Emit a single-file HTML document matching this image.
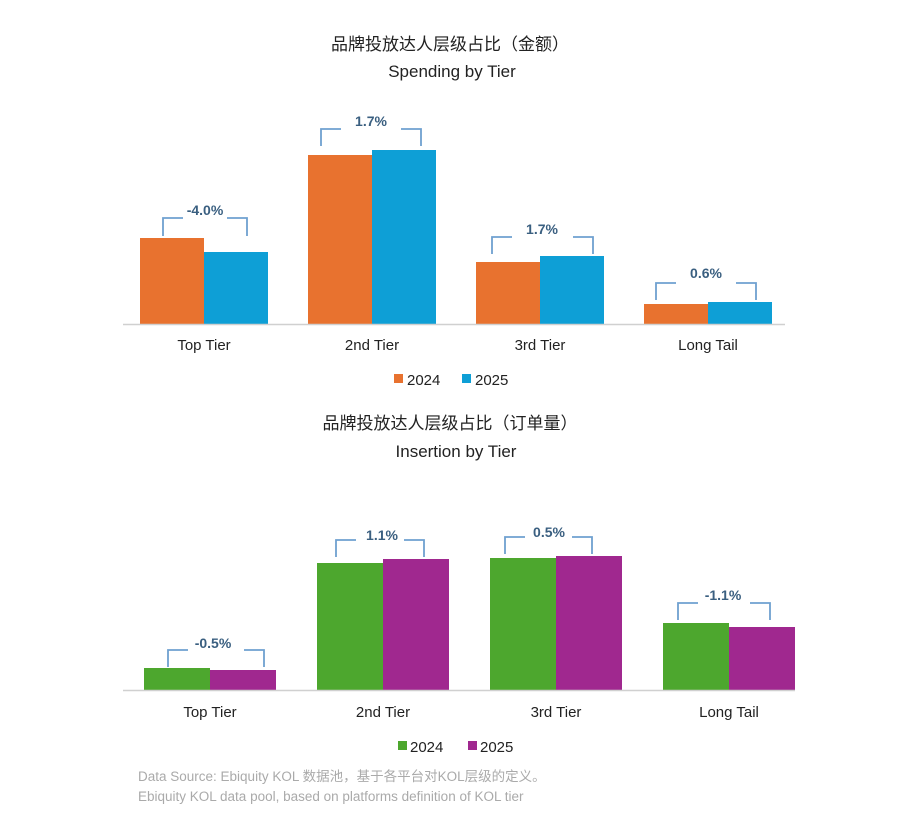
<!DOCTYPE html>
<html><head><meta charset="utf-8"><style>
body{margin:0;background:#fff;}
svg{display:block;}
text{font-family:"Liberation Sans","Noto Sans CJK SC",sans-serif;}
</style></head><body>
<svg width="900" height="824" viewBox="0 0 900 824" xmlns="http://www.w3.org/2000/svg">
<g text-anchor="middle" fill="#222">
<text x="450" y="50" font-size="17">品牌投放达人层级占比（金额）</text>
<text x="452" y="77" font-size="17">Spending by Tier</text>
<text x="450" y="429" font-size="17">品牌投放达人层级占比（订单量）</text>
<text x="456" y="457" font-size="17">Insertion by Tier</text>
</g>
<!-- top chart -->
<g>
<rect x="140" y="238" width="64" height="86" fill="#E8722F"/>
<rect x="204" y="252" width="64" height="72" fill="#0E9FD6"/>
<rect x="308" y="155" width="64" height="169" fill="#E8722F"/>
<rect x="372" y="150" width="64" height="174" fill="#0E9FD6"/>
<rect x="476" y="262" width="64" height="62" fill="#E8722F"/>
<rect x="540" y="256" width="64" height="68" fill="#0E9FD6"/>
<rect x="644" y="304" width="64" height="20" fill="#E8722F"/>
<rect x="708" y="302" width="64" height="22" fill="#0E9FD6"/>
<line x1="123" y1="324.5" x2="785" y2="324.5" stroke="#d0d0d0" stroke-width="1.5"/>
<g fill="none" stroke="#6FA0D0" stroke-width="1.8">
<path d="M163 236V218H183M227 218H247V236"/>
<path d="M321 146V129H341M401 129H421V146"/>
<path d="M492 254V237H512M573 237H593V254"/>
<path d="M656 300V283H676M736 283H756V300"/>
</g>
<g fill="#3A5F80" font-weight="bold" font-size="14" text-anchor="middle">
<text x="205" y="215">-4.0%</text>
<text x="371" y="126">1.7%</text>
<text x="542" y="234">1.7%</text>
<text x="706" y="278">0.6%</text>
</g>
<g fill="#222" font-size="15" text-anchor="middle">
<text x="204" y="350">Top Tier</text>
<text x="372" y="350">2nd Tier</text>
<text x="540" y="350">3rd Tier</text>
<text x="708" y="350">Long Tail</text>
</g>
<rect x="394" y="374" width="9" height="9" fill="#E8722F"/>
<text x="407" y="385" font-size="15" fill="#222">2024</text>
<rect x="462" y="374" width="9" height="9" fill="#0E9FD6"/>
<text x="475" y="385" font-size="15" fill="#222">2025</text>
</g>
<!-- bottom chart -->
<g>
<rect x="144" y="668" width="66" height="22" fill="#4DA72E"/>
<rect x="210" y="670" width="66" height="20" fill="#A0288F"/>
<rect x="317" y="563" width="66" height="127" fill="#4DA72E"/>
<rect x="383" y="559" width="66" height="131" fill="#A0288F"/>
<rect x="490" y="558" width="66" height="132" fill="#4DA72E"/>
<rect x="556" y="556" width="66" height="134" fill="#A0288F"/>
<rect x="663" y="623" width="66" height="67" fill="#4DA72E"/>
<rect x="729" y="627" width="66" height="63" fill="#A0288F"/>
<line x1="123" y1="690.5" x2="795" y2="690.5" stroke="#d0d0d0" stroke-width="1.5"/>
<g fill="none" stroke="#6FA0D0" stroke-width="1.8">
<path d="M168 667V650H188M244 650H264V667"/>
<path d="M336 557V540H356M404 540H424V557"/>
<path d="M505 554V537H525M572 537H592V554"/>
<path d="M678 620V603H698M750 603H770V620"/>
</g>
<g fill="#3A5F80" font-weight="bold" font-size="14" text-anchor="middle">
<text x="213" y="648">-0.5%</text>
<text x="382" y="540">1.1%</text>
<text x="549" y="537">0.5%</text>
<text x="723" y="600">-1.1%</text>
</g>
<g fill="#222" font-size="15" text-anchor="middle">
<text x="210" y="717">Top Tier</text>
<text x="383" y="717">2nd Tier</text>
<text x="556" y="717">3rd Tier</text>
<text x="729" y="717">Long Tail</text>
</g>
<rect x="398" y="741" width="9" height="9" fill="#4DA72E"/>
<text x="410" y="752" font-size="15" fill="#222">2024</text>
<rect x="468" y="741" width="9" height="9" fill="#A0288F"/>
<text x="480" y="752" font-size="15" fill="#222">2025</text>
</g>
<g fill="#aaa" font-size="13.5">
<text x="138" y="781">Data Source: Ebiquity KOL 数据池，基于各平台对KOL层级的定义。</text>
<text x="138" y="801">Ebiquity KOL data pool, based on platforms definition of KOL tier</text>
</g>
</svg>
</body></html>
